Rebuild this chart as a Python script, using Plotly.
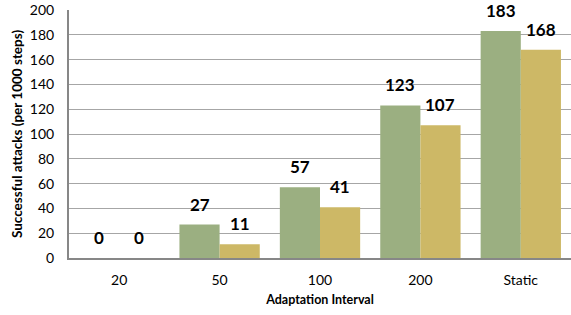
import plotly.graph_objects as go

categories = ["20", "50", "100", "200", "Static"]
series_a = [0, 27, 57, 123, 183]
series_b = [0, 11, 41, 107, 168]
y_ticks = [0, 20, 40, 60, 80, 100, 120, 140, 160, 180, 200]

green = "#9BAF81"
gold = "#CDB866"
font = "Lato, 'Liberation Sans', sans-serif"

fig = go.Figure()
fig.add_trace(go.Bar(x=categories, y=series_a, marker=dict(color=green, line=dict(width=0)), name="A"))
fig.add_trace(go.Bar(x=categories, y=series_b, marker=dict(color=gold, line=dict(width=0)), name="B"))

annotations = []
for i, (a, b) in enumerate(zip(series_a, series_b)):
    for off, v in ((-0.2, a), (0.2, b)):
        annotations.append(dict(x=i + off, y=v, xref="x", yref="y", text=str(v), showarrow=False,
                                yanchor="bottom", yshift=8,
                                font=dict(family=font, size=17, color="black", weight="bold")))

fig.update_layout(
    width=571, height=315,
    margin=dict(l=69, r=0, t=10, b=57),
    paper_bgcolor="white", plot_bgcolor="white",
    showlegend=False,
    barmode="group", bargap=0.2, bargroupgap=0,
    annotations=annotations,
    font=dict(family=font, color="black"),
)
fig.update_xaxes(
    automargin=False,
    showline=True, linecolor="#878787", linewidth=2,
    ticks="", ticklabelstandoff=8, tickfont=dict(size=14, color="black"),
    title=dict(text="Adaptation Interval", font=dict(size=12.5, color="black", weight="bold"), standoff=8),
)
fig.update_yaxes(
    automargin=False,
    range=[0, 200], tickvals=y_ticks, ticktext=[str(t) for t in y_ticks],
    showline=True, linecolor="#878787", linewidth=2,
    showgrid=True, gridcolor="#A6A6A6", gridwidth=1,
    zeroline=False, ticks="", ticklabelstandoff=10, tickfont=dict(size=14, color="black"),
    title=dict(text="Successful attacks (per 1000 steps)", font=dict(size=13.5, color="black", weight="bold"), standoff=4),
)
fig.write_html("out.html", config={"displayModeBar": False},
               post_script="document.body.style.margin='0';document.body.style.overflow='hidden';")
